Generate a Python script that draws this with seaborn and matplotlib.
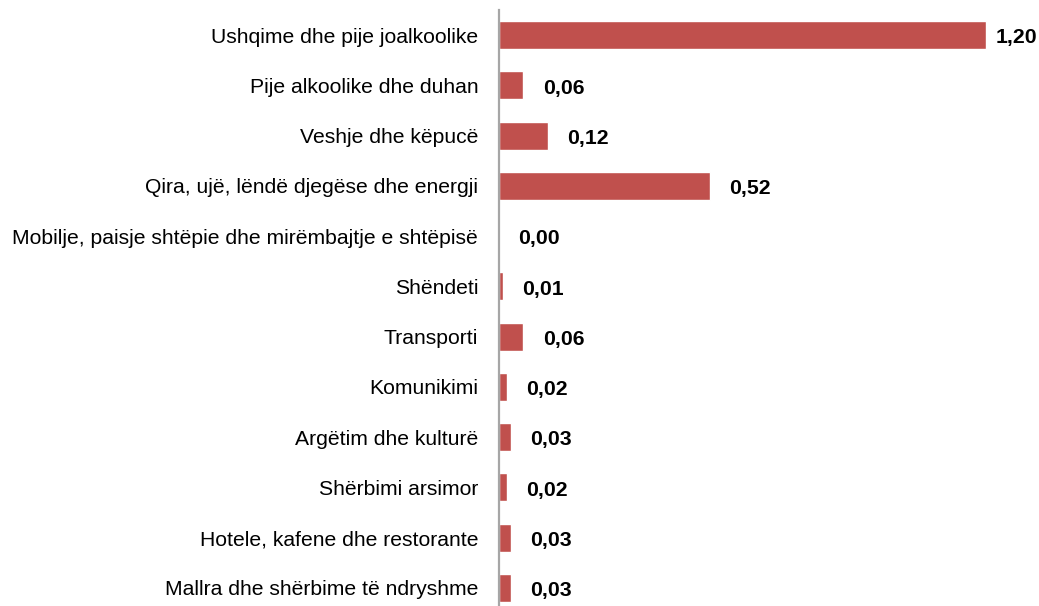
import matplotlib
matplotlib.use("Agg")
import matplotlib.pyplot as plt
import seaborn as sns
import pandas as pd

# data
categories = [
    "Ushqime dhe pije joalkoolike",
    "Pije alkoolike dhe duhan",
    "Veshje dhe këpucë",
    "Qira, ujë, lëndë djegëse dhe energji",
    "Mobilje, paisje shtëpie dhe mirëmbajtje e shtëpisë",
    "Shëndeti",
    "Transporti",
    "Komunikimi",
    "Argëtim dhe kulturë",
    "Shërbimi arsimor",
    "Hotele, kafene dhe restorante",
    "Mallra dhe shërbime të ndryshme",
]
values = [1.20, 0.06, 0.12, 0.52, 0.00, 0.01, 0.06, 0.02, 0.03, 0.02, 0.03, 0.03]
value_labels = ["1,20", "0,06", "0,12", "0,52", "0,00", "0,01", "0,06", "0,02", "0,03", "0,02", "0,03", "0,03"]

df = pd.DataFrame({"category": categories, "value": values})

sns.set_style("white")
plt.rcParams['font.family'] = ['Liberation Sans', 'DejaVu Sans']

fig = plt.figure(figsize=(10.39, 6.06), dpi=100)
ax = fig.add_axes([499 / 1039, -7 / 606, 540 / 1039, 603 / 606])

sns.barplot(data=df, x="value", y="category", color="#C0504D", saturation=1,
            width=0.56, ax=ax)

ax.set_xlim(0, 1.33)
ax.set_ylim(11.5, -0.5)
ax.set_xlabel("")
ax.set_ylabel("")
ax.set_xticks([])
ax.tick_params(axis="y", length=0, pad=15, labelsize=15.2, labelcolor="#000000")

for s in ["top", "right", "bottom"]:
    ax.spines[s].set_visible(False)
ax.spines["left"].set_color("#A6A6A6")
ax.spines["left"].set_linewidth(1.6)

# value labels (the longest bar gets a tighter gap so its label fits)
for i, (v, lab) in enumerate(zip(values, value_labels)):
    gap = 7 if v == max(values) else 14
    ax.annotate(lab, xy=(v, i), xytext=(gap, -2), textcoords="offset points",
                ha="left", va="center", fontsize=15.3, fontweight="bold", color="black")

fig.savefig("out.png", dpi=100)
